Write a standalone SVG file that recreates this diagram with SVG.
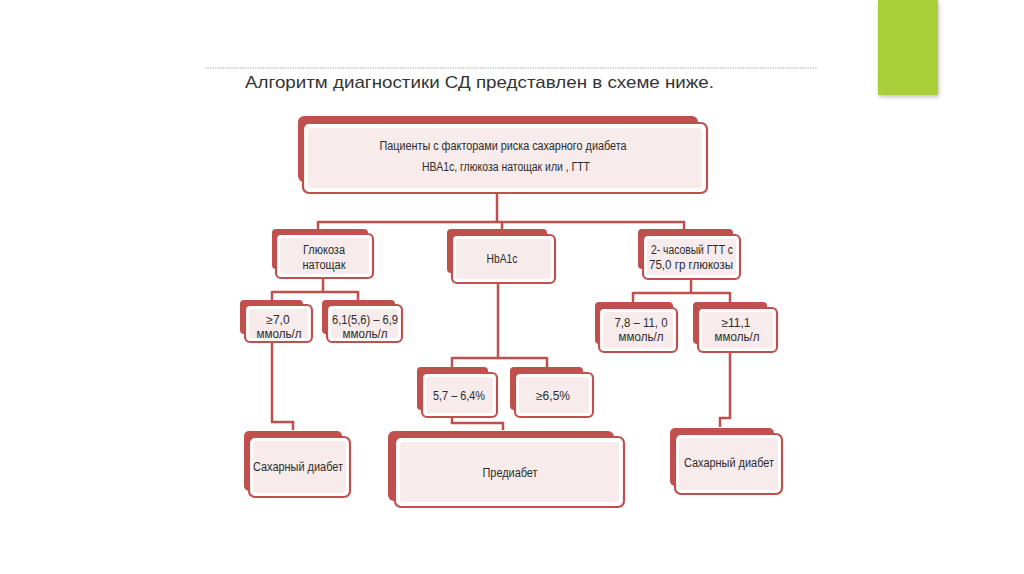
<svg xmlns="http://www.w3.org/2000/svg" width="1024" height="574" viewBox="0 0 1024 574">
<defs>
<style>
.back{fill:#c0504d;}
.front{fill:#ffffff;stroke:#c0504d;stroke-width:2.2;}
.inner{fill:#f7ebeb;}
.t{font-family:"Liberation Sans",Arial,sans-serif;font-size:12px;fill:#2b2b2b;text-anchor:middle;}
.conn{fill:none;stroke:#c0504d;stroke-width:2.5;}
</style>
<filter id="sh" x="-20%" y="-10%" width="140%" height="130%">
<feDropShadow dx="1" dy="2" stdDeviation="2" flood-color="#000" flood-opacity="0.25"/>
</filter>
</defs>
<rect width="1024" height="574" fill="#ffffff"/>
<rect x="878" y="0" width="60" height="95" fill="#a8cf38" filter="url(#sh)"/>
<line x1="205" y1="68" x2="818" y2="68" stroke="#b0b0b0" stroke-width="1.2" stroke-dasharray="1.5,1"/>
<text x="245" y="88" font-family="Liberation Sans,Arial,sans-serif" font-size="17" fill="#333" textLength="469" lengthAdjust="spacingAndGlyphs">Алгоритм диагностики СД представлен в схеме ниже.</text>

<g id="connectors">
<path class="conn" d="M497 193 V222 M318 222 H685 M318 221 V231 M502 221 V235 M684 221 V231"/>
<path class="conn" d="M323 278 V292 M272 292 H358 M272 291 V301 M358 291 V301"/>
<path class="conn" d="M691 279 V293 M633 293 H730 M633 292 V302 M730 292 V302"/>
<path class="conn" d="M498 283 V358 M452 358 H547 M452 357 V367 M547 357 V367"/>
<path class="conn" d="M272 342 V422 H293 V430"/>
<path class="conn" d="M452 417 V423 H503 V430"/>
<path class="conn" d="M730 352 V418 H720 V427"/>
</g>

<g id="n-top">
<rect class="back" x="298" y="116" width="400" height="66" rx="6"/>
<rect class="front" x="303" y="123" width="404" height="70" rx="6"/>
<rect class="inner" x="308" y="128" width="394" height="60" rx="4"/>
<text class="t" x="503" y="150" textLength="247" lengthAdjust="spacingAndGlyphs">Пациенты с факторами риска сахарного диабета</text>
<text class="t" x="506" y="171" textLength="168" lengthAdjust="spacingAndGlyphs">НВА1с, глюкоза натощак или , ГТТ</text>
</g>

<g id="n-glucose">
<rect class="back" x="272" y="229" width="96" height="40" rx="4"/>
<rect class="front" x="276" y="234" width="97" height="44" rx="5"/>
<rect class="inner" x="280" y="238" width="89" height="36" rx="3"/>
<text class="t" x="324" y="254" textLength="42" lengthAdjust="spacingAndGlyphs">Глюкоза</text>
<text class="t" x="324" y="269" textLength="43" lengthAdjust="spacingAndGlyphs">натощак</text>
</g>

<g id="n-hba1c">
<rect class="back" x="447" y="229" width="100" height="44" rx="4"/>
<rect class="front" x="452" y="235" width="103" height="48" rx="5"/>
<rect class="inner" x="456" y="239" width="95" height="40" rx="3"/>
<text class="t" x="502" y="263" textLength="31" lengthAdjust="spacingAndGlyphs">HbA1c</text>
</g>

<g id="n-gtt">
<rect class="back" x="638" y="229" width="95" height="40" rx="4"/>
<rect class="front" x="643" y="235" width="97" height="44" rx="5"/>
<rect class="inner" x="647" y="239" width="89" height="36" rx="3"/>
<text class="t" x="692" y="254" textLength="82" lengthAdjust="spacingAndGlyphs">2- часовый ГТТ с</text>
<text class="t" x="691" y="269" textLength="84" lengthAdjust="spacingAndGlyphs">75,0 гр глюкозы</text>
</g>

<g id="n-ge7">
<rect class="back" x="240" y="300" width="63" height="34" rx="4"/>
<rect class="front" x="245" y="305" width="67" height="37" rx="5"/>
<rect class="inner" x="249" y="309" width="59" height="29" rx="3"/>
<text class="t" x="278" y="324">≥7,0</text>
<text class="t" x="279" y="338" textLength="45" lengthAdjust="spacingAndGlyphs">ммоль/л</text>
</g>

<g id="n-61">
<rect class="back" x="322" y="300" width="73" height="34" rx="4"/>
<rect class="front" x="327" y="305" width="75" height="37" rx="5"/>
<rect class="inner" x="331" y="309" width="67" height="29" rx="3"/>
<text class="t" x="365" y="324" textLength="66" lengthAdjust="spacingAndGlyphs">6,1(5,6) – 6,9</text>
<text class="t" x="365" y="338" textLength="45" lengthAdjust="spacingAndGlyphs">ммоль/л</text>
</g>

<g id="n-78">
<rect class="back" x="595" y="302" width="78" height="42" rx="4"/>
<rect class="front" x="599" y="308" width="78" height="44" rx="5"/>
<rect class="inner" x="603" y="312" width="70" height="36" rx="3"/>
<text class="t" x="641" y="327" textLength="53" lengthAdjust="spacingAndGlyphs">7,8 – 11, 0</text>
<text class="t" x="641" y="341" textLength="45" lengthAdjust="spacingAndGlyphs">ммоль/л</text>
</g>

<g id="n-ge111">
<rect class="back" x="693" y="302" width="74" height="42" rx="4"/>
<rect class="front" x="698" y="308" width="79" height="44" rx="5"/>
<rect class="inner" x="702" y="312" width="71" height="36" rx="3"/>
<text class="t" x="736" y="327">≥11,1</text>
<text class="t" x="737" y="341" textLength="45" lengthAdjust="spacingAndGlyphs">ммоль/л</text>
</g>

<g id="n-57">
<rect class="back" x="417" y="367" width="71" height="43" rx="4"/>
<rect class="front" x="422" y="373" width="75" height="44" rx="5"/>
<rect class="inner" x="426" y="377" width="67" height="36" rx="3"/>
<text class="t" x="459" y="400" textLength="52" lengthAdjust="spacingAndGlyphs">5,7 – 6,4%</text>
</g>

<g id="n-ge65">
<rect class="back" x="510" y="367" width="73" height="43" rx="4"/>
<rect class="front" x="515" y="373" width="78" height="44" rx="5"/>
<rect class="inner" x="519" y="377" width="70" height="36" rx="3"/>
<text class="t" x="553" y="400">≥6,5%</text>
</g>

<g id="n-sd-left">
<rect class="back" x="244" y="431" width="98" height="60" rx="5"/>
<rect class="front" x="249" y="437" width="101" height="60" rx="6"/>
<rect class="inner" x="253" y="441" width="93" height="52" rx="4"/>
<text class="t" x="298" y="471" textLength="90" lengthAdjust="spacingAndGlyphs">Сахарный диабет</text>
</g>

<g id="n-prediabet">
<rect class="back" x="388" y="431" width="226" height="70" rx="6"/>
<rect class="front" x="395" y="437" width="229" height="70" rx="6"/>
<rect class="inner" x="400" y="442" width="219" height="60" rx="4"/>
<text class="t" x="510" y="477" textLength="55" lengthAdjust="spacingAndGlyphs">Предиабет</text>
</g>

<g id="n-sd-right">
<rect class="back" x="670" y="428" width="104" height="58" rx="5"/>
<rect class="front" x="675" y="434" width="107" height="60" rx="6"/>
<rect class="inner" x="679" y="438" width="99" height="52" rx="4"/>
<text class="t" x="729" y="467" textLength="90" lengthAdjust="spacingAndGlyphs">Сахарный диабет</text>
</g>
</svg>
